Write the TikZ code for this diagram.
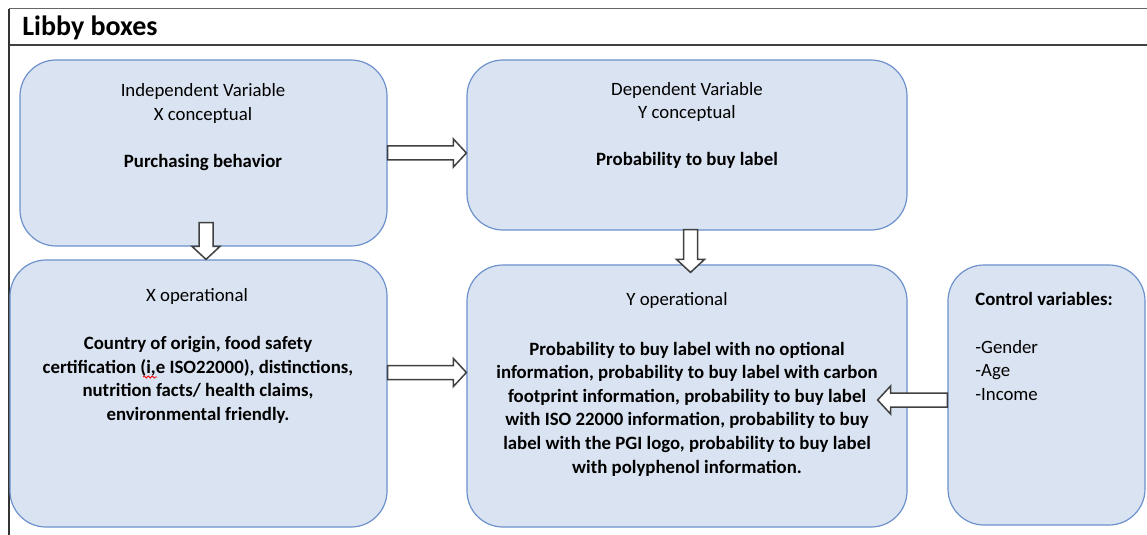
\documentclass[tikz,border=0pt]{standalone}
\usepackage{fontspec}
\setmainfont{Carlito}
\usetikzlibrary{calc, decorations.pathmorphing}

\definecolor{boxfill}{RGB}{218,227,241}
\definecolor{boxline}{RGB}{108,145,204}
\definecolor{arrowline}{RGB}{64,64,64}

\tikzstyle{varbox} = [
    rectangle,
    rounded corners=18pt,
    inner sep=0pt,
    fill=boxfill,
    draw=boxline,
    line width=0.6pt
]
\tikzstyle{boxtext} = [
    align=center,
    font=\fontsize{9.4}{11.8}\selectfont
]
\tikzstyle{boldtext} = [
    boxtext,
    font=\fontsize{9.4}{11.8}\selectfont\bfseries
]
% hollow block arrow from the start point to the tip
\tikzstyle{blockarrow} = [
    draw=arrowline,
    fill=white,
    line width=0.75pt,
    to path={let \p1=(\tikztostart), \p2=(\tikztotarget),
        \n1={atan2(\y2-\y1,\x2-\x1)}, \n2={veclen(\x2-\x1,\y2-\y1)} in
        [shift={(\p1)}, rotate=\n1]
        (0pt,-3.5pt) -- ({\n2-6.5pt},-3.5pt) -- ({\n2-6.5pt},-7pt)
        -- (\n2,0pt) -- ({\n2-6.5pt},7pt) -- ({\n2-6.5pt},3.5pt)
        -- (0pt,3.5pt) -- cycle}
]
\tikzstyle{squiggle} = [
    red,
    line width=0.4pt,
    decorate,
    decoration={snake, amplitude=0.5pt, segment length=2pt}
]

\begin{document}
\begin{tikzpicture}[x=0.5pt, y=-0.5pt]
\useasboundingbox (0,0) rectangle (1147,535);

% frame with the heading
\draw [black!60, line width=0.5pt] (9,9) -- (1147,9);
\draw [black!75, line width=1pt] (9,45) -- (1147,45);
\draw [black!80, line width=0.8pt] (9,9) -- (9,535);
\node (title) [anchor=west, inner sep=0pt, font=\fontsize{14}{16}\selectfont\bfseries] at (22,28) {Libby boxes};

% the five boxes
\node (ind) [varbox, minimum width=183.5pt, minimum height=93pt] at (203.5,153) {};
\node (dep) [varbox, minimum width=220pt, minimum height=85pt] at (687,145) {};
\node (xop) [varbox, minimum width=188.5pt, minimum height=133.5pt] at (198.5,393.5) {};
\node (yop) [varbox, minimum width=220pt, minimum height=131pt] at (687,396) {};
\node (ctrl) [varbox, minimum width=98.5pt, minimum height=130pt] at (1046.5,395) {};

% box texts
\node (indtext) [boxtext] at (203,127)
{Independent Variable\\X conceptual\\[11.8pt]\textbf{Purchasing behavior}};

\node (deptext) [boxtext] at (687,125.5)
{Dependent Variable\\Y conceptual\\[11.8pt]\textbf{Probability to buy label}};

\node (xoptitle) [boxtext] at (197,296.5) {X operational};

\node (xoptext) [boldtext] at (198,380)
{Country of origin, food safety\\
certification (i,e ISO22000), distinctions,\\
nutrition facts/ health claims,\\
environmental friendly.};

% spelling mark under "i,e"
\draw [squiggle] (143,377) -- (157,377);

\node (yoptitle) [boxtext] at (677,300.5) {Y operational};

\node (yoptext) [boldtext] at (687,409)
{Probability to buy label with no optional\\
information, probability to buy label with carbon\\
footprint information, probability to buy label\\
with ISO 22000 information, probability to buy\\
label with the PGI logo, probability to buy label\\
with polyphenol information.};

\node (ctrltext) [boxtext, align=left, anchor=west, inner sep=0pt] at (975,346.5)
{\textbf{Control variables:}\\[11.8pt]-Gender\\-Age\\-Income};

% block arrows between the boxes
\draw [blockarrow] (ind.east) to (ind.east -| dep.west);
\draw [blockarrow] ($(ind.south)+(1.25pt,12pt)$) to ($(ind.south |- xop.north)+(1.25pt,0pt)$);
\draw [blockarrow] ($(dep.south)+(1.75pt,0.5pt)$) to ($(dep.south |- yop.north)+(1.75pt,-4pt)$);
\draw [blockarrow] ($(xop.east)+(0pt,10.5pt)$) to ($(xop.east -| yop.west)+(0pt,10.5pt)$);
\draw [blockarrow] ($(ctrl.west)+(0pt,-2.5pt)$) to ($(ctrl.west -| yop.east)+(-15pt,-2.5pt)$);

\end{tikzpicture}
\end{document}
